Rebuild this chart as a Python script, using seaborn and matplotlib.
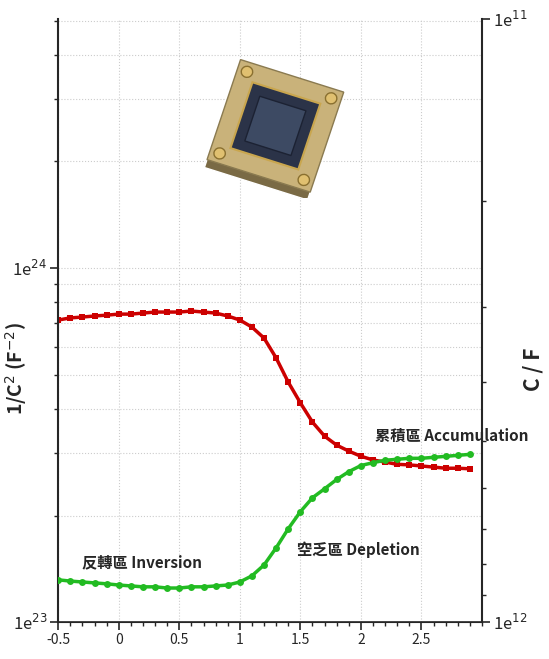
import numpy as np
import pandas as pd
import matplotlib
matplotlib.use("Agg")
import matplotlib.pyplot as plt
import matplotlib.patches as mpatches
import seaborn as sns

voltage = [-0.5,-0.4,-0.3,-0.2,-0.1,0.0,0.1,0.2,0.3,0.4,0.5,0.6,0.7,0.8,0.9,1.0,1.1,1.2,1.3,1.4,
           1.5,1.6,1.7,1.8,1.9,2.0,2.1,2.2,2.3,2.4,2.5,2.6,2.7,2.8,2.9]
inv_c2 = [7.13e23,7.23e23,7.27e23,7.32e23,7.36e23,7.41e23,7.41e23,7.46e23,7.51e23,7.51e23,7.51e23,
          7.56e23,7.51e23,7.46e23,7.32e23,7.13e23,6.81e23,6.34e23,5.57e23,4.76e23,4.16e23,3.67e23,
          3.35e23,3.16e23,3.04e23,2.94e23,2.87e23,2.83e23,2.79e23,2.78e23,2.76e23,2.74e23,2.72e23,
          2.72e23,2.71e23]
cap = [8.51e11,8.55e11,8.58e11,8.61e11,8.64e11,8.68e11,8.71e11,8.74e11,8.74e11,8.78e11,8.78e11,
       8.74e11,8.74e11,8.71e11,8.68e11,8.58e11,8.38e11,8.04e11,7.53e11,7.00e11,6.56e11,6.22e11,
       6.01e11,5.80e11,5.63e11,5.50e11,5.44e11,5.39e11,5.37e11,5.35e11,5.35e11,5.33e11,5.31e11,
       5.29e11,5.27e11]
xticks = [-0.5,0,0.5,1,1.5,2,2.5]
xticklabels = ["-0.5","0","0.5","1","1.5","2","2.5"]

df = pd.DataFrame({"V": voltage, "invC2": inv_c2, "C": cap})

sns.set_style("white")
plt.rcParams['font.family'] = ['Noto Sans CJK TC', 'DejaVu Sans']

fig = plt.figure(figsize=(5.49, 6.59), dpi=100)
ax = fig.add_axes([0.106, 0.056, 0.772, 0.915])
ax2 = ax.twinx()

sns.lineplot(data=df, x="V", y="invC2", ax=ax, color="#cc0000", marker="s",
             markersize=5, markeredgewidth=0, linewidth=2.5)
sns.lineplot(data=df, x="V", y="C", ax=ax2, color="#22bb22", marker="o",
             markersize=5, markeredgewidth=0, linewidth=2.5)

ax.set_yscale("log")
ax.set_ylim(1e23, 10**24.703)
ax2.set_yscale("log")
ax2.set_ylim(1e12, 1e11)
ax.set_xlim(-0.5, 3.0)
ax.set_xticks(xticks)
ax.set_xticklabels(xticklabels, fontsize=10)
ax.set_xticks(np.arange(-0.5, 3.01, 0.1), minor=True)
ax.set_xlabel("")
ax.set_ylabel(r"1/C$^2$ (F$^{-2}$)", fontsize=14, fontweight="bold")
ax2.set_ylabel("C / F", fontsize=15, fontweight="bold")
ax.yaxis.set_label_coords(-0.068, 0.42)
ax2.yaxis.set_label_coords(1.095, 0.42)

ax.set_yticks([1e23, 1e24])
ax.set_yticklabels([r"1e$^{23}$", r"1e$^{24}$"], fontsize=12)
ax2.set_yticks([1e11, 1e12])
ax2.set_yticklabels([r"1e$^{11}$", r"1e$^{12}$"], fontsize=12)
ax.yaxis.set_minor_formatter(matplotlib.ticker.NullFormatter())
ax2.yaxis.set_minor_formatter(matplotlib.ticker.NullFormatter())
for a in (ax, ax2):
    a.tick_params(which="major", length=6, width=1.2, direction="out", pad=2)
    a.tick_params(which="minor", length=3, width=1, direction="out")
ax.tick_params(axis="y", which="both", left=True)
ax.tick_params(axis="x", which="both", bottom=True)
ax2.tick_params(axis="y", which="both", right=True)

ax.grid(True, which="both", axis="y", color="#cccccc", linestyle=":", linewidth=0.8)
ax.grid(True, which="major", axis="x", color="#cccccc", linestyle=":", linewidth=0.8)
ax.spines["top"].set_visible(False)
ax2.spines["top"].set_visible(False)
ax.spines["left"].set_linewidth(1.5)
ax2.spines["right"].set_linewidth(1.5)
ax.spines["right"].set_visible(False)
ax2.spines["left"].set_visible(False)
ax.spines["bottom"].set_linewidth(1.2)

ax.text(-0.3, 1.43e23, "反轉區 Inversion", fontsize=11, fontweight="bold")
ax.text(1.47, 1.55e23, "空乏區 Depletion", fontsize=11, fontweight="bold")
ax.text(2.12, 3.25e23, "累積區 Accumulation", fontsize=11, fontweight="bold")

# simple chip illustration
ins = fig.add_axes([0.37, 0.70, 0.26, 0.21])
ins.set_xlim(0, 1); ins.set_ylim(0, 1); ins.axis("off")
tr = matplotlib.transforms.Affine2D().rotate_deg_around(0.5, 0.5, -18) + ins.transData
ins.add_patch(mpatches.Rectangle((0.12, 0.08), 0.76, 0.76, facecolor="#7a6a45", transform=tr))
ins.add_patch(mpatches.Rectangle((0.12, 0.14), 0.76, 0.76, facecolor="#c9b27a", edgecolor="#8a7a50", transform=tr))
ins.add_patch(mpatches.Rectangle((0.25, 0.27), 0.5, 0.5, facecolor="#2b3348", edgecolor="#c9a64e", lw=1.5, transform=tr))
ins.add_patch(mpatches.Rectangle((0.33, 0.35), 0.34, 0.34, facecolor="#3d4a63", edgecolor="#1c2233", transform=tr))
for cx, cy in [(0.19, 0.21), (0.81, 0.21), (0.19, 0.83), (0.81, 0.83)]:
    ins.add_patch(mpatches.Circle((cx, cy), 0.04, facecolor="#e0c070", edgecolor="#8a7030", transform=tr))

fig.savefig("out.png", dpi=100)
